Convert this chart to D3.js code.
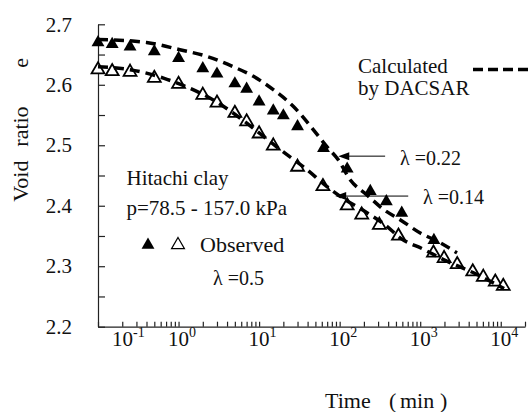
<!DOCTYPE html>
<html>
<head>
<meta charset="utf-8">
<script src="https://cdn.jsdelivr.net/npm/d3@7"></script>
<style>
  html, body { margin: 0; padding: 0; background: #fff; }
  svg { display: block; }
</style>
</head>
<body>
<svg id="chart" width="528" height="412"></svg>
<script>
// ---- data ----
const tFilled = [0.1, 0.15, 0.25, 0.5, 1, 2, 3, 5, 7, 10, 15, 20, 30, 63, 124, 240, 380, 590, 1480];
const eFilled = [2.670, 2.667, 2.663, 2.655, 2.644, 2.627, 2.618, 2.602, 2.593, 2.572, 2.557, 2.549, 2.531, 2.495, 2.461, 2.424, 2.407, 2.388, 2.343];

const tOpen = [0.1, 0.15, 0.25, 0.5, 1, 2, 3, 5, 7, 10, 15, 30, 62, 124, 188, 311, 537, 1460, 1980, 2880, 4490, 6070, 8550, 10740];
const eOpen = [2.625, 2.622, 2.621, 2.611, 2.601, 2.583, 2.570, 2.553, 2.539, 2.519, 2.499, 2.464, 2.432, 2.400, 2.385, 2.368, 2.350, 2.322, 2.313, 2.303, 2.291, 2.282, 2.274, 2.267];

// calculated (DACSAR): lambda = 0.22 (upper) and 0.14 (lower)
const tCalcA = [0.1, 0.4, 1.04, 2.24, 4.75, 8.5, 15, 26.7, 47, 69, 96, 135, 218, 350, 562, 1000, 1770, 2860];
const eCalcA = [2.675, 2.670, 2.658, 2.647, 2.630, 2.614, 2.592, 2.564, 2.526, 2.498, 2.476, 2.443, 2.418, 2.394, 2.377, 2.355, 2.339, 2.322];

const tCalcB = [0.1, 0.25, 0.65, 1.39, 2.7, 4.8, 8.5, 13.7, 18.2, 39, 69, 111, 198, 386, 562, 1100, 1945, 4960, 11000];
const eCalcB = [2.630, 2.625, 2.611, 2.594, 2.575, 2.553, 2.528, 2.506, 2.493, 2.460, 2.432, 2.412, 2.392, 2.366, 2.347, 2.328, 2.311, 2.287, 2.263];

const xDomain = [0.1, 20000];
const yDomain = [2.2, 2.7];
const xTickExps = [-1, 0, 1, 2, 3, 4];
const yTickLabels = [2.2, 2.3, 2.4, 2.5, 2.6, 2.7];
const yMinorTicks = [2.2, 2.25, 2.3, 2.35, 2.4, 2.45, 2.5, 2.55, 2.6, 2.65, 2.7];

const FONT = '"Liberation Serif"';

// ---- scales ----
const svg = d3.select("#chart");
svg.append("rect").attr("width", 528).attr("height", 412).attr("fill", "#fff");

const x = d3.scaleLog().domain(xDomain).range([98, 525]);
const y = d3.scaleLinear().domain(yDomain).range([326.7, 24.3]);

const axisColor = "#222";

function txt(xp, yp, size, s) {
  return svg.append("text").attr("x", xp).attr("y", yp)
    .style("font-family", FONT).style("font-size", size + "px").attr("fill", "#111").text(s);
}

// x minor ticks 1..9 x 10^n
const xMinor = [];
for (let n = -1; n <= 4; n++) for (let k = 1; k <= 9; k++) {
  const v = +(k * Math.pow(10, n)).toPrecision(6);
  if (v >= xDomain[0] && v <= xDomain[1]) xMinor.push(v);
}

const gx = svg.append("g").attr("transform", `translate(0,${y(2.2)})`)
  .call(d3.axisBottom(x).tickValues(xMinor).tickSize(-5).tickSizeOuter(0).tickFormat(""));
gx.selectAll("path,line").attr("stroke", axisColor).attr("stroke-width", 1.2);

const gy = svg.append("g").attr("transform", `translate(${x(0.1)},0)`)
  .call(d3.axisLeft(y).tickValues(yMinorTicks).tickSize(-7).tickSizeOuter(0).tickPadding(26)
    .tickFormat(d => yTickLabels.some(v => Math.abs(v - d) < 1e-9) ? d3.format(".1f")(d) : ""));
gy.selectAll("path,line").attr("stroke", axisColor).attr("stroke-width", 1.2);
gy.selectAll("text").style("font-family", FONT).style("font-size", "21px").attr("fill", "#111");

// x tick labels 10^n
xTickExps.forEach((e, i) => {
  const cx = x(Math.pow(10, e)) + (i === 0 ? 24.5 : 0);
  const t = txt(cx - 10.5, 345.5, 21, null);
  t.append("tspan").text("10");
  t.append("tspan").attr("dy", -9).style("font-size", "14px").text(String(e));
});

// axis titles
const yt = svg.append("text").attr("transform", "translate(27.5,201.7) rotate(-90)")
  .style("font-family", FONT).style("font-size", "22px").attr("fill", "#111");
yt.append("tspan").attr("x", 0).text("Void");
yt.append("tspan").attr("x", 55).text("ratio");
yt.append("tspan").attr("x", 134).text("e");

const xt = svg.append("text").attr("y", 408)
  .style("font-family", FONT).style("font-size", "22px").attr("fill", "#111");
xt.append("tspan").attr("x", 325).text("Time");
xt.append("tspan").attr("x", 389).text("(");
xt.append("tspan").attr("x", 400).text("min");
xt.append("tspan").attr("x", 440).text(")");

// ---- markers ----
const tri = d3.symbol().type(d3.symbolTriangle).size(72);
const filled = tFilled.map((t, i) => ({ t, e: eFilled[i] }));
const open = tOpen.map((t, i) => ({ t, e: eOpen[i] }));

svg.append("g").selectAll("path").data(open).join("path")
  .attr("d", tri).attr("transform", d => `translate(${x(d.t)},${y(d.e)})`)
  .attr("fill", "#fff").attr("stroke", "#000").attr("stroke-width", 1.8);
svg.append("g").selectAll("path").data(filled).join("path")
  .attr("d", tri).attr("transform", d => `translate(${x(d.t)},${y(d.e)})`)
  .attr("fill", "#000");

// ---- calculated lines ----
const line = d3.line().x(d => x(d.t)).y(d => y(d.e)).curve(d3.curveMonotoneX);
[[tCalcA, eCalcA], [tCalcB, eCalcB]].forEach(([ts, es]) => {
  svg.append("path").datum(ts.map((t, i) => ({ t, e: es[i] })))
    .attr("d", line).attr("fill", "none").attr("stroke", "#000")
    .attr("stroke-width", 3.5).attr("stroke-dasharray", "10,6");
});

// ---- annotations ----
function arrow(tTip, tTail, e) {
  const xtp = x(tTip), xa = x(tTail), yy = y(e);
  svg.append("line").attr("x1", xtp + 8).attr("x2", xa).attr("y1", yy).attr("y2", yy)
    .attr("stroke", "#000").attr("stroke-width", 1);
  svg.append("path").attr("d", `M${xtp},${yy}L${xtp + 11},${yy - 4}L${xtp + 11},${yy + 4}Z`).attr("fill", "#000");
}
arrow(96, 367, 2.482);
arrow(88, 710, 2.416);
txt(400, 165, 20, "λ =0.22");
txt(423, 204, 20, "λ =0.14");

// legend / notes
txt(358, 72.5, 21, "Calculated");
txt(358, 95, 21, "by DACSAR");
svg.append("line").attr("x1", 473).attr("x2", 528).attr("y1", 69.5).attr("y2", 69.5)
  .attr("stroke", "#000").attr("stroke-width", 3.5).attr("stroke-dasharray", "10,5");

txt(126.5, 185, 21, "Hitachi clay");
txt(126.5, 215, 21, "p=78.5 - 157.0 kPa");
svg.append("path").attr("d", tri).attr("transform", "translate(148,245)").attr("fill", "#000");
svg.append("path").attr("d", tri).attr("transform", "translate(178,245)")
  .attr("fill", "#fff").attr("stroke", "#000").attr("stroke-width", 1.2);
txt(200, 251.5, 22, "Observed");
txt(213, 285, 20, "λ =0.5");
</script>
</body>
</html>
